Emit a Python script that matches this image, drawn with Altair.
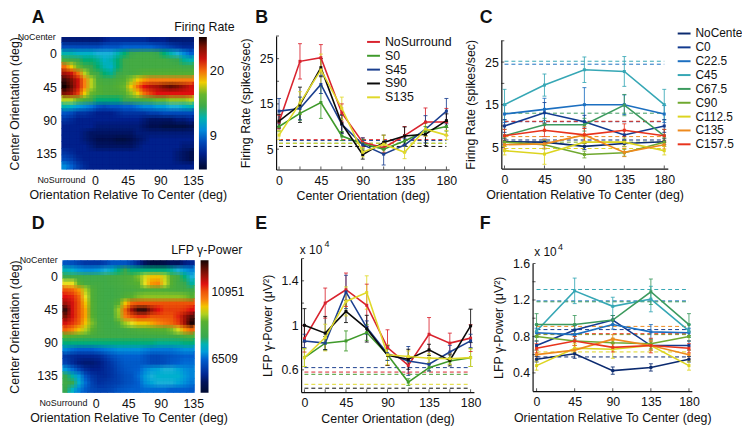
import altair as alt
import pandas as pd

FONT = "Liberation Sans"
ORI9 = [0, 22.5, 45, 67.5, 90, 112.5, 135, 157.5, 180]
ORI5 = [0, 45, 90, 135, 180]

# ---- heat map A (firing rate, spikes/sec), read row by row
HEAT_A = [
 [5.5,5.5,5.5,5.5,5.5,5.5,6,6.5,6.5,6.5,6.5,6.5,6.5,6,6,6,5.5,5.5,5.5,5.5],
 [8,8,8,8,8,8,8.5,8.5,8.5,9,9,9,9,9,8.5,8,7.5,7,6.5,6.5],
 [12,12,11.5,11.5,11.5,11,11,11,12,13,13.5,14,14,14,13.5,13,12,11,10,9],
 [15,14,13.5,13,13,12.5,11.5,12,13,14,14.5,14.5,14.5,14.5,14.5,14.5,14,13.5,12.5,12],
 [20,18,16,14.5,13.5,13,12,11.5,13,14,14.5,14.5,14.5,14.5,14.5,14.5,14.5,14.5,14,14],
 [23,22,20,17,15,14,13,12.5,13.5,14.5,14.5,15,15.5,15.5,15.5,15.5,15.5,15.5,15.5,15.5],
 [25,24,22,19.5,17,15,14.5,14.5,15,15.5,16.5,18,19,19.5,19.5,19.5,19.5,19.5,19.5,19.5],
 [26,24.5,22,19.5,17,15.5,15,15,15.5,16,18,20,21.5,22.5,23,24,24.5,24,23,22],
 [24,23,21,18,16,15.5,15,15,15,15.5,16.5,18,20,21,21.5,21.5,21.5,21.5,21.5,21.5],
 [17,17,16,15,14,13,13,13,13,13.5,14,14.5,15,15.5,16,16,16.5,16.5,16.5,17],
 [12,11.5,10.5,10,9.5,8.5,8,8.5,8.5,9,9,9.5,10,10,10.5,10.5,11,11,11.5,12],
 [8.5,8,7,7,6.5,6,6,6,6.5,7,7,7,7,7.5,7.5,8,8,8,8,8],
 [7,6.5,6,6,6,6,6,6,6,6,6,6,5.5,5,5,5,5,5.5,5.5,6],
 [6,6,6,6,6,5.5,5.5,5.5,5.5,5.5,5.5,5.5,5,4.5,4.5,4,4,4,4,4.5],
 [6,6,6,5.5,5,5,5,5,5,5,5,5.5,5.5,5.5,5.5,5.5,5.5,5.5,5.5,5.5],
 [6,6,6,5.5,5,4.5,4.5,4.5,4,4,4.5,5,5.5,6,6,6,6,6,6,6],
 [6,6,6,6,5.5,5,5,5,5,5,5,5.5,6,6,6,6,6,6,5.5,5.5],
 [7,6.5,6,6,6,6,6,6,6,6,6,6,6,6,6,6,6,5.5,5,4.5],
 [8,7.5,6.5,6,6,6,6,6,6,6,6,6,6,6,6,6,6,5.5,5,4.5],
 [10,9,7.5,6.5,6,6,6,6,6,6,6,6,6,6,6,6,6,6,6,6],
]
# ---- heat map D (LFP gamma power, thousands)
HEAT_D = [
 [6.3,6.2,6.0,5.8,5.8,5.8,6,6.3,6.3,6.3,6,5.5,5,4.6,4.6,4.8,5,5,5.3,5.5],
 [7.5,7.3,7.0,6.9,6.9,7.0,7.2,7.4,7.8,8,7.8,7.8,7.8,7.8,7.8,7.8,7.6,7.2,7,6.8],
 [8.2,8.3,8.3,8.2,8.2,8.2,8.3,8.4,8.5,8.6,8.8,9.2,9.7,10,10,9.6,8.9,8.4,7.8,7.2],
 [9.8,9.8,9,8.5,8.4,8.4,8.3,8.4,8.5,8.6,8.8,9,9.8,10.3,10.4,9.7,8.9,8.4,8,7.6],
 [11,10.8,10.3,9.5,8.8,8.4,8.3,8.3,8.4,8.5,8.5,8.6,8.7,8.8,8.8,8.7,8.6,8.5,8.4,8.3],
 [11.5,11.4,10.8,9.8,8.8,8.4,8.3,8.3,8.4,8.8,9,9.2,9.3,9.3,9.3,9.3,9.3,9.3,9.2,9],
 [12,11.6,11,10,8.9,8.4,8.3,8.4,9,10,10.8,11,11,11,11,11,11,11,11,11],
 [12.8,11.6,11,10.2,8.9,8.4,8.3,8.4,9.4,10.8,12,12.8,12.8,12,11.5,11.2,11.2,11.2,11.3,11.5],
 [12.3,11.6,11,10.2,9,8.4,8.3,8.4,9.3,10.5,11,11.3,11.3,11,11,11,11,11.4,12,12.6],
 [11.6,11.3,10.8,10,9.2,8.5,8.3,8.3,8.7,9.4,9.8,10,10,10.2,10.4,10.6,10.8,11.2,12,13],
 [10.8,10.4,10,9.5,9,8.5,8.3,8.3,8.3,8.4,8.6,8.7,8.8,8.9,9,9,9.2,9.7,10.3,10.8],
 [9,8.9,8.8,8.6,8.5,8.4,8.3,8.3,8.3,8.3,8.3,8.3,8.3,8.3,8.3,8.3,8.3,8.4,8.6,8.8],
 [7.8,7.8,7.8,7.8,7.8,7.8,7.8,7.8,7.8,7.8,7.8,7.8,7.8,7.8,7.7,7.7,7.7,7.7,7.8,7.8],
 [6.8,6.6,6.5,6.5,6.5,6.6,6.7,6.8,6.9,6.9,6.9,6.9,6.8,6.7,6.7,6.7,6.7,6.8,6.9,6.9],
 [5.8,5.6,5.5,5.5,5.5,5.6,5.9,6.2,6.4,6.5,6.5,6.5,6.3,6.1,6.1,6.2,6.3,6.4,6.5,6.5],
 [6.0,5.6,5.3,5.2,5.2,5.3,5.6,5.9,6.2,6.4,6.4,6.4,6.3,6.1,6.1,6.2,6.4,6.5,6.6,6.6],
 [7,6.6,6.1,5.6,5.4,5.4,5.6,5.8,6.1,6.3,6.4,6.5,6.8,7.0,7.1,7.2,7.2,7.1,6.9,6.8],
 [8,7.6,7,6.3,5.8,5.6,5.6,5.8,6,6.2,6.3,6.6,7.0,7.2,7.3,7.3,7.3,7.3,7,6.8],
 [8.3,8,7.3,6.6,6,5.7,5.8,5.9,6,6.2,6.3,6.5,6.9,7.1,7.2,7.2,7.2,7.1,6.9,6.7],
 [8,7.4,6.8,6.4,6.1,6,6,6.1,6.3,6.4,6.5,6.5,6.6,6.6,6.6,6.6,6.5,6.5,6.5,6.4],
]
JET = ["#000a33", "#001050", "#00208c", "#0060d0", "#18b0d8", "#38a850", "#58b030",
       "#e8e020", "#f88010", "#e01010", "#701000", "#100000"]
STOPS_A = [3.33, 4.5, 6, 9, 11, 13.5, 15.8, 17.6, 19.5, 21.5, 24.3, 25.67]
STOPS_D = [4277, 4900, 5400, 6509, 7200, 8000, 9000, 9800, 10450, 11500, 12400, 13073]

# ---- panel B
B_NAMES = ["NoSurround", "S0", "S45", "S90", "S135"]
B_COLS = ["#d9232e", "#3f9a2b", "#1b3f8f", "#0a0a0a", "#e0d92a"]
B_VAL = [
 [11, 24.4, 25.2, 13, 6.5, 5.3, 8, 11, 11],
 [10, 12.9, 15.3, 7.9, 6.2, 5, 6.8, 9, 10],
 [13.4, 14, 19.3, 10.5, 6, 3.9, 5.9, 9.4, 13.4],
 [11.2, 14.8, 23, 10.6, 3.8, 6.5, 7.9, 8.3, 11.3],
 [8.1, 15.2, 22.5, 14, 4.3, 6.1, 4.3, 9.4, 8.1],
]
B_ERR = [
 [1.5, 3.9, 2.9, 2, 1, 1, 2, 3.1, 3],
 [1, 1.5, 3.5, 1, 1, 1, 1, 1, 1],
 [2.8, 2.5, 2, 2, 1.5, 2.4, 1.5, 3, 2.8],
 [1.5, 3.9, 2, 2, 1, 1.6, 2, 2.5, 1.5],
 [1, 2.5, 3.5, 2.5, 1, 2, 1.4, 1.5, 1],
]
B_BASE = [7.1, 6.3, 6.9, 5.6, 6.3]

# ---- panel C
C_NAMES = ["NoCenter", "C0", "C22.5", "C45", "C67.5", "C90", "C112.5", "C135", "C157.5"]
C_COLS = ["#0b2a6f", "#123a8f", "#1c6fc0", "#36a7b5", "#3c9a5e", "#6fa82f", "#dcd41f", "#ee8a1d", "#e8331c"]
C_VAL = [
 [6.3, 6.2, 5.2, 5.9, 6.3],
 [10, 13.1, 11, 7.9, 10],
 [12.8, 13.9, 15, 15, 12.8],
 [15, 19.6, 23.2, 22.8, 15],
 [7.7, 10.3, 10.3, 14.9, 7.7],
 [6.2, 5.6, 3.3, 3.7, 6.2],
 [4.2, 3.4, 6.2, 6.2, 4.2],
 [5.6, 5.8, 7.9, 3.8, 5.6],
 [7.7, 9, 7.9, 9, 7.7],
]
C_ERR = [
 [0.7, 0.7, 0.7, 0.7, 0.7],
 [1.5, 2.4, 1.5, 1, 1.5],
 [2, 2.6, 4, 2.3, 2],
 [3.6, 2.6, 3, 3.5, 3.6],
 [1.5, 1.5, 1.5, 2.5, 1.5],
 [1, 1, 0.8, 0.8, 1],
 [1, 2.4, 1, 1, 1],
 [1, 1, 2, 1, 1],
 [1.5, 1.5, 1.5, 1.5, 1.5],
]
C_BASE = [6.7, 11, 24.5, 25.2, 13, 6.2, 4.7, 7.5, 11.1]

# ---- panel E
E_VAL = [
 [0.88, 1.2, 1.32, 1.18, 0.8, 0.64, 0.92, 0.84, 0.885],
 [0.71, 0.84, 0.86, 0.935, 0.735, 0.49, 0.62, 0.68, 0.71],
 [0.86, 0.84, 1.3, 0.98, 0.745, 0.68, 0.65, 0.76, 0.86],
 [1, 0.93, 1.125, 0.97, 0.73, 0.695, 0.78, 0.685, 0.995],
 [0.71, 0.89, 1.215, 1.295, 0.735, 0.72, 0.705, 0.7, 0.71],
]
E_ERR = [
 [0.12, 0.135, 0.15, 0.19, 0.16, 0.07, 0.15, 0.09, 0.12],
 [0.08, 0.06, 0.09, 0.07, 0.05, 0.03, 0.03, 0.03, 0.08],
 [0.06, 0.06, 0.15, 0.06, 0.06, 0.13, 0.06, 0.06, 0.06],
 [0.15, 0.15, 0.1, 0.12, 0.09, 0.09, 0.05, 0.05, 0.15],
 [0.08, 0.12, 0.13, 0.15, 0.09, 0.05, 0.04, 0.05, 0.08],
]
E_BASE = [0.58, 0.56, 0.62, 0.435, 0.47]

# ---- panel F
F_VAL = [
 [0.55, 0.61, 0.425, 0.46, 0.55],
 [0.7, 0.87, 0.98, 0.7, 0.7],
 [0.84, 0.82, 0.93, 0.85, 0.84],
 [0.86, 1.3, 1.13, 1.21, 0.86],
 [0.93, 0.93, 0.98, 1.29, 0.93],
 [0.8, 0.75, 0.73, 0.72, 0.8],
 [0.48, 0.67, 0.66, 0.7, 0.48],
 [0.6, 0.65, 0.77, 0.7, 0.6],
 [0.67, 0.75, 0.68, 0.7, 0.67],
]
F_ERR = [
 [0.03, 0.05, 0.04, 0.04, 0.03],
 [0.05, 0.05, 0.05, 0.05, 0.05],
 [0.05, 0.05, 0.05, 0.08, 0.05],
 [0.07, 0.14, 0.1, 0.14, 0.07],
 [0.12, 0.1, 0.05, 0.14, 0.12],
 [0.05, 0.05, 0.05, 0.05, 0.05],
 [0.05, 0.05, 0.1, 0.05, 0.05],
 [0.05, 0.05, 0.05, 0.05, 0.05],
 [0.05, 0.05, 0.05, 0.08, 0.05],
]
F_BASE = [0.575, 0.875, 1.19, 1.315, 1.18, 0.82, 0.63, 0.91, 0.83]

W, H = 742, 421
layers = []
ONE = pd.DataFrame({"a": [0]})
dark = "#111111"


def note(txt, x, y, size=12.5, weight="normal", align="left", angle=0):
    layers.append(
        alt.Chart(ONE)
        .mark_text(font=FONT, fontSize=size, fontWeight=weight, align=align, baseline="middle", angle=angle, color=dark)
        .encode(x=alt.value(x), y=alt.value(y), text=alt.value(txt))
    )


def heat(rows, xd, yd, xr, yr, stops, ticks, lx, ly, lab, tx, ty, txt):
    n = len(rows)
    dx = (xd[1] - xd[0]) / n
    dy = (yd[1] - yd[0]) / n
    mult = 1000 if stops[0] > 1000 else 1
    sc = alt.Scale(domain=stops, range=JET, clamp=True)
    xsc = alt.Scale(domain=xd, range=xr, nice=False, zero=False)
    ysc = alt.Scale(domain=yd, range=yr, nice=False, zero=False)
    # the same cells drawn four times, a quarter cell to each side, with equal
    # visual weight: this softens the grid as the smoothed original does
    passes = [(-0.25, -0.25, 1.0), (0.25, -0.25, 0.5), (-0.25, 0.25, 1 / 3), (0.25, 0.25, 0.25)]
    for k, (ox, oy, op) in enumerate(passes):
        recs = []
        grow = 1.1 if k == 0 else 1.0
        for i, r in enumerate(rows):
            for j, v in enumerate(r):
                x1 = xd[1] if (k == 0 and j == n - 1) else min(xd[1], xd[0] + (j + grow + ox) * dx)
                y1 = yd[1] if (k == 0 and i == n - 1) else min(yd[1], yd[0] + (i + grow + oy) * dy)
                recs.append(dict(x0=max(xd[0], xd[0] + (j + ox) * dx), x1=x1,
                                 y0=max(yd[0], yd[0] + (i + oy) * dy), y1=y1, v=v * mult))
        if k == 0:
            xax = alt.Axis(orient="bottom", values=[0, 45, 90, 135], offset=yr[1] - H, ticks=False, domain=False, grid=False,
                           labelPadding=5, labelFontSize=12.5, labelFont=FONT, labelColor=dark,
                           title="Orientation Relative To Center (deg)", titleFont=FONT, titleFontSize=12.5,
                           titleFontWeight="normal", titleColor=dark, titlePadding=2)
            yax = alt.Axis(orient="left", values=[0, 45, 90, 135], offset=-xr[0], ticks=False, domain=False, grid=False,
                           labelPadding=5, labelFontSize=12.5, labelFont=FONT, labelColor=dark,
                           title="Center Orientation (deg)", titleFont=FONT, titleFontSize=12.5,
                           titleFontWeight="normal", titleColor=dark, titleX=-xr[0] + 14, titleY=(yr[0] + yr[1]) / 2)
            leg = alt.Legend(type="gradient", orient="none", legendX=lx, legendY=ly, title=None, direction="vertical",
                             gradientLength=134, gradientThickness=8, values=ticks, labelFont=FONT, labelFontSize=lab,
                             labelColor=dark, format="d", gradientStrokeWidth=0, labelOffset=3, padding=0)
        else:
            xax, yax, leg = None, None, None
        layers.append(
            alt.Chart(pd.DataFrame(recs)).mark_rect(opacity=op).encode(
                x=alt.X("x0:Q", scale=xsc, axis=xax), x2="x1:Q",
                y=alt.Y("y0:Q", scale=ysc, axis=yax), y2="y1:Q",
                color=alt.Color("v:Q", scale=sc, legend=leg),
            )
        )
    note(txt, tx, ty)


def panel(names, cols, vals, errs, base, xv, xd, xr, yd, yr, ytks, yminor, xminor, ytitle, xtitle, xlab, legend_xy, tp, lab_size=12.5):
    rows = []
    for nm, vv, ee in zip(names, vals, errs):
        for x, v, e in zip(xv, vv, ee):
            rows.append(dict(series=nm, x=x, y=v, lo=v - e, hi=v + e))
    df = pd.DataFrame(rows)
    dfb = pd.DataFrame(dict(series=names, y=base, x=[xv[0]] * len(names), x1=[xv[-1]] * len(names)))
    xsc = alt.Scale(domain=xd, range=xr, nice=False, zero=False)
    ysc = alt.Scale(domain=yd, range=yr, nice=False, zero=False)
    csc = alt.Scale(domain=names, range=cols)
    X = lambda a=None: alt.X("x:Q", scale=xsc, axis=a)
    col = alt.Color("series:N", scale=csc, legend=None)
    xa = alt.Axis(orient="bottom", values=xlab, offset=yr[0] - H, ticks=False, grid=False, domainColor=dark, domainWidth=1.2,
                  labelPadding=5, labelFontSize=lab_size, labelFont=FONT, labelColor=dark, labelOverlap=False,
                  title=xtitle, titleFont=FONT, titleFontSize=12.5, titleFontWeight="normal", titleColor=dark, titlePadding=3)
    ya = alt.Axis(orient="left", values=ytks, offset=-xr[0], ticks=False, grid=False, domainColor=dark, domainWidth=1.2, format=".2~f",
                  labelPadding=3, labelFontSize=lab_size, labelFont=FONT, labelColor=dark, labelOverlap=False,
                  title=ytitle, titleFont=FONT, titleFontSize=12.5, titleFontWeight="normal", titleColor=dark, titlePadding=tp)
    # axes and dashed baselines
    layers.append(alt.Chart(dfb).mark_rule(strokeDash=[4, 3], strokeWidth=1).encode(
        x=X(xa), x2="x1:Q", y=alt.Y("y:Q", scale=ysc, axis=ya), color=col))
    # inward ticks
    layers.append(alt.Chart(pd.DataFrame({"y": yminor})).mark_tick(orient="horizontal", size=3, thickness=1, color=dark).encode(
        x=alt.value(xr[0] + 1.5), y=alt.Y("y:Q", scale=ysc, axis=None)))
    layers.append(alt.Chart(pd.DataFrame({"x": xminor})).mark_tick(orient="vertical", size=3, thickness=1, color=dark).encode(
        y=alt.value(yr[0] - 1.5), x=X()))
    # error bars
    layers.append(alt.Chart(df).mark_rule(strokeWidth=1, opacity=0.85).encode(
        x=X(), y=alt.Y("lo:Q", scale=ysc, axis=None), y2="hi:Q", color=col))
    for f in ["lo", "hi"]:
        layers.append(alt.Chart(df).mark_tick(orient="horizontal", size=4, thickness=1, opacity=0.85).encode(
            x=X(), y=alt.Y(f + ":Q", scale=ysc, axis=None), color=col))
    # lines with legend
    leg = alt.Legend(orient="none", legendX=legend_xy[0], legendY=legend_xy[1], title=None, symbolType="stroke",
                     symbolSize=169, symbolStrokeWidth=2, labelFont=FONT, labelFontSize=legend_xy[2], labelColor=dark,
                     rowPadding=0, labelOffset=4, padding=0) if legend_xy else None
    layers.append(alt.Chart(df).mark_line(strokeWidth=1.6).encode(
        x=X(), y=alt.Y("y:Q", scale=ysc, axis=None),
        color=alt.Color("series:N", scale=csc, legend=leg, sort=None)))
    layers.append(alt.Chart(df).mark_point(filled=True, size=9, opacity=1, shape="square").encode(
        x=X(), y=alt.Y("y:Q", scale=ysc, axis=None), color=col))


O = 8  # page margin
heat(HEAT_A, [-46.4, 136.4], [-23, 156], [62 - O, 196 - O], [35 - O, 169 - O], STOPS_A, [9, 20],
     201 - O, 35 - O, 13, 176 - O, 25 - O, "Firing Rate")
heat(HEAT_D, [-46.3, 137], [-22.5, 158.4], [63 - O, 196.7 - O], [260.7 - O, 394.7 - O], STOPS_D, [6509, 10951],
     202.7 - O, 260.7 - O, 12, 173 - O, 250.7 - O, "LFP \u03b3-Power")

panel(B_NAMES, B_COLS, B_VAL, B_ERR, B_BASE, ORI9, [-3.2, 183], [279 - O, 454 - O], [0.5, 30], [169 - O, 34 - O],
      [5, 15, 25], [5, 10, 15, 20, 25, 30], ORI9, "Firing Rate (spikes/sec)", "Center Orientation (deg)",
      [0, 45, 90, 135, 180], (370 - O, 32.5 - O, 12.5), 7)
panel(C_NAMES, C_COLS, C_VAL, C_ERR, C_BASE, ORI5, [-3.6, 184], [506.7 - O, 675 - O], [0, 30.2], [168 - O, 38 - O],
      [5, 15, 25], [5, 10, 15, 20, 25, 30], ORI5, "Firing Rate (spikes/sec)", "Orientation Relative To Center (deg)",
      [0, 45, 90, 135, 180], (684 - O, 24 - O, 12), 7)
panel(B_NAMES, B_COLS, E_VAL, E_ERR, E_BASE, ORI9, [-3.6, 183.6], [304.3 - O, 479 - O], [0.4, 1.6], [394 - O, 259 - O],
      [0.6, 1, 1.4], [0.6, 0.8, 1, 1.2, 1.4, 1.6], ORI9, "LFP \u03b3-Power (\u03bcV\u00b2)", "Center Orientation (deg)",
      [0, 45, 90, 135, 180], None, 7)
panel(C_NAMES, C_COLS, F_VAL, F_ERR, F_BASE, ORI5, [-4.7, 183.4], [538.3 - O, 699.3 - O], [0.2, 1.6], [393 - O, 264 - O],
      [0.4, 0.8, 1.2, 1.6], [0.4, 0.6, 0.8, 1, 1.2, 1.4, 1.6], ORI5, "LFP \u03b3-Power (\u03bcV\u00b2)",
      "Orientation Relative To Center (deg)", [0, 45, 90, 135, 180], None, 7)

note("NoSurround", 62 - O, 180 - O, size=9, align="center")
note("NoCenter", 37 - O, 35 - O, size=9, align="center")
note("NoSurround", 64 - O, 405 - O, size=9, align="center")
note("NoCenter", 39 - O, 260 - O, size=9, align="center")
note("x 10", 295, 242, size=12)
note("4", 320, 236, size=9)
note("x 10", 532, 244, size=12)
note("4", 556, 239, size=9)
for t, x, y in [("A", 32 - O, 8), ("B", 258 - O, 8), ("C", 485 - O, 8),
                ("D", 32 - O, 224 - O), ("E", 258 - O, 224 - O), ("F", 485 - O, 224 - O)]:
    note(t, x, y, size=18, weight="bold")

chart = (
    alt.layer(*layers)
    .resolve_scale(x="independent", y="independent", color="independent")
    .properties(width=W, height=H, padding=0, autosize=alt.AutoSizeParams(type="none"))
    .configure_view(stroke=None)
)
chart.save("out.html", embed_options={"renderer": "svg", "actions": False})
